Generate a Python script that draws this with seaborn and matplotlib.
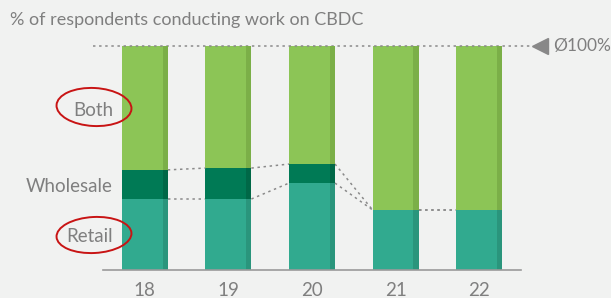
import matplotlib
matplotlib.use("Agg")
import matplotlib.pyplot as plt
from matplotlib.patches import Ellipse, Rectangle
import seaborn as sns
import pandas as pd

years = ["18", "19", "20", "21", "22"]
retail = [31.7, 31.7, 38.8, 26.8, 26.8]
wholesale = [13.0, 13.8, 8.5, 0.0, 0.0]
both = [55.3, 54.5, 52.7, 73.2, 73.2]
segment_labels = ["Retail", "Wholesale", "Both"]

title = "% of respondents conducting work on CBDC"
avg_label = "Ø100%"

BG = "#F1F2F1"
GRAY = "#7F7F7F"
colors = {"Retail": "#31AA8F", "Wholesale": "#007A55", "Both": "#8CC556"}
strip_colors = {"Retail": "#2A957C", "Wholesale": "#006847", "Both": "#7BAF48"}

df = pd.DataFrame({"year": years, "Retail": retail, "Wholesale": wholesale, "Both": both})
df["cum_retail"] = df["Retail"]
df["cum_wholesale"] = df["Retail"] + df["Wholesale"]
df["cum_both"] = df["cum_wholesale"] + df["Both"]

sns.set_style("white")
plt.rcParams["font.family"] = ["Lato", "DejaVu Sans"]

W, H = 611, 298
fig = plt.figure(figsize=(W / 100, H / 100), dpi=100, facecolor=BG)
ax = fig.add_axes([103 / W, 28 / H, 418 / W, 224 / H])
ax.set_facecolor(BG)

bar_w = 0.55
layers = [("Both", "cum_both"), ("Wholesale", "cum_wholesale"), ("Retail", "cum_retail")]
for name, col in layers:
    n_before = len(ax.patches)
    sns.barplot(data=df, x="year", y=col, color=colors[name], width=bar_w,
                saturation=1, ax=ax, linewidth=0)
    for p in ax.patches[n_before:]:
        if p.get_height() <= 0:
            continue
        sw = 0.062
        ax.add_patch(Rectangle((p.get_x() + p.get_width() - sw, p.get_y()), sw,
                               p.get_height(), color=strip_colors[name], lw=0,
                               zorder=p.get_zorder() + 0.01))

ax.set_xlim(-0.5, 4.5)
ax.set_ylim(0, 100)
sns.despine(ax=ax, left=True, top=True, right=True)
ax.spines["bottom"].set_color("#9A9A9A")
ax.spines["bottom"].set_linewidth(1.2)
ax.set_yticks([])
ax.set_xlabel("")
ax.set_ylabel("")
ax.tick_params(axis="x", length=0, pad=9, labelsize=13.5, colors=GRAY)

# dotted connectors between segment tops
dot = dict(color="#8A8A8A", lw=1.1, linestyle=(0, (1.6, 2.4)), zorder=1, clip_on=False)
half = bar_w / 2
for i in range(len(years) - 1):
    for col in ["cum_retail", "cum_wholesale"]:
        y0 = df[col].iloc[i]
        y1 = df[col].iloc[i + 1]
        ax.plot([i + half, i + 1 - half], [y0, y1], **dot)

# 100% reference line
ax.plot([-0.62, 4.64], [100, 100], **dot)
ax.plot([4.73], [100], marker="<", markersize=12, color="#888888", clip_on=False)
ax.text(4.88, 100, avg_label, va="center", ha="left", fontsize=12.5, color=GRAY)

fig.text(10 / W, 1 - 20 / H, title, fontsize=13, color=GRAY, va="center", ha="left")

# segment labels on the left
label_pos = {"Both": (113, 110), "Wholesale": (113, 186), "Retail": (113, 237)}
for name in segment_labels:
    x, y = label_pos[name]
    fig.text(x / W, 1 - y / H, name, fontsize=13.5, color=GRAY, ha="right", va="center")

# red hand-drawn style circles
for cx, cy, ew, eh, ang in [(94, 107, 75, 38, -3), (94, 235, 75, 36, 3)]:
    e = Ellipse((cx / 100, (H - cy) / 100), ew / 100, eh / 100, angle=ang,
                transform=fig.dpi_scale_trans, fill=False, edgecolor="#C81414", lw=1.4)
    fig.add_artist(e)

fig.savefig("out.png", dpi=100, facecolor=BG)
